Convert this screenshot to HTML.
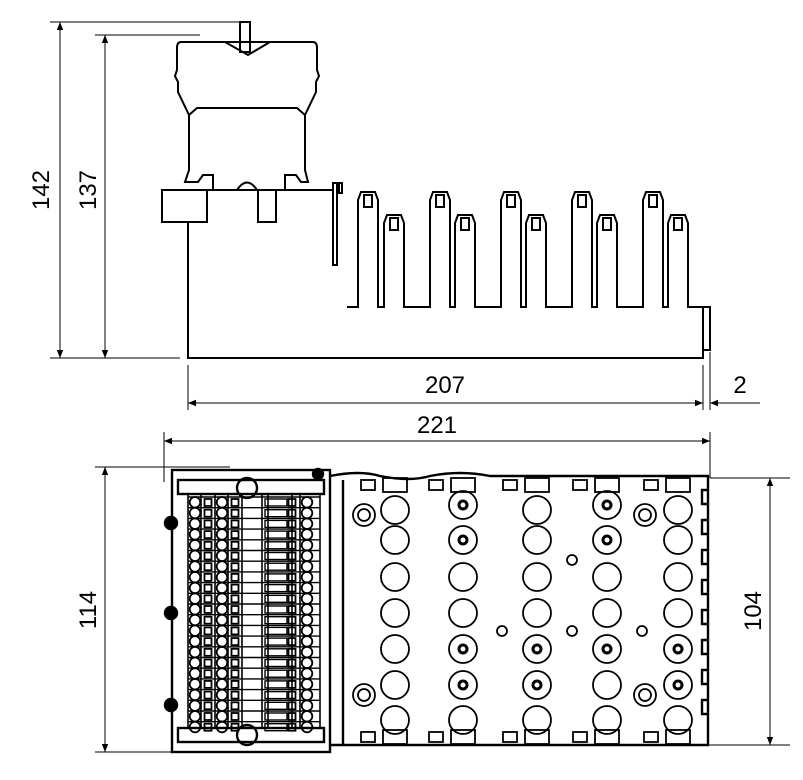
<!DOCTYPE html>
<html><head><meta charset="utf-8"><style>
html,body{margin:0;padding:0;background:#fff;width:803px;height:780px;overflow:hidden}
svg{display:block}
text{font-family:"Liberation Sans",sans-serif;font-size:24px;fill:#000}
</style></head><body>
<svg id="s" width="803" height="780" viewBox="0 0 803 780" xmlns="http://www.w3.org/2000/svg">
<defs>
<marker id="a" viewBox="0 0 10 10" refX="10" refY="5" markerWidth="12" markerHeight="8" orient="auto-start-reverse" markerUnits="userSpaceOnUse"><path d="M0,1 L10,5 L0,9 z" fill="#000"/></marker>
</defs>
<g stroke="#000" stroke-width="1" fill="none">
<line x1="50" y1="22" x2="240" y2="22"/><line x1="50" y1="358" x2="180" y2="358"/>
<line x1="95" y1="35" x2="200" y2="35"/>
<line x1="188" y1="365" x2="188" y2="410"/><line x1="703" y1="365" x2="703" y2="410"/><line x1="710" y1="352" x2="710" y2="410"/>
<line x1="164" y1="432" x2="164" y2="482"/><line x1="710" y1="432" x2="710" y2="478"/>
<line x1="95" y1="467" x2="230" y2="467"/><line x1="95" y1="752" x2="200" y2="752"/>
<line x1="710" y1="478" x2="790" y2="478"/><line x1="700" y1="745" x2="790" y2="745"/>
<line x1="60" y1="22" x2="60" y2="358" marker-start="url(#a)" marker-end="url(#a)"/>
<line x1="105" y1="35" x2="105" y2="358" marker-start="url(#a)" marker-end="url(#a)"/>
<line x1="188" y1="403" x2="703" y2="403" marker-start="url(#a)" marker-end="url(#a)"/>
<line x1="760" y1="403" x2="710" y2="403" marker-end="url(#a)"/>
<line x1="164" y1="441" x2="710" y2="441" marker-start="url(#a)" marker-end="url(#a)"/>
<line x1="105" y1="467" x2="105" y2="752" marker-start="url(#a)" marker-end="url(#a)"/>
<line x1="770" y1="478" x2="770" y2="745" marker-start="url(#a)" marker-end="url(#a)"/>
</g>
<text x="445" y="393" text-anchor="middle">207</text>
<text x="740" y="393" text-anchor="middle">2</text>
<text x="437" y="433" text-anchor="middle">221</text>
<text transform="translate(49,190) rotate(-90)" text-anchor="middle">142</text>
<text transform="translate(96,190) rotate(-90)" text-anchor="middle">137</text>
<text transform="translate(96,610) rotate(-90)" text-anchor="middle">114</text>
<text transform="translate(761,611) rotate(-90)" text-anchor="middle">104</text>

<g stroke="#000" stroke-width="2" fill="none">
<path d="M188,222 V358 H703 V307"/>
<path d="M207,190 H333"/>
<rect x="162" y="190" width="45" height="32"/>
<rect x="258" y="190" width="18" height="32"/>
<rect x="333" y="183" width="4" height="82"/><rect x="339" y="183" width="3" height="10"/>
<rect x="703" y="307" width="7" height="43"/>
<path d="M181,42 Q177,42 177,48 V70 L175,76 L178,82 V92 L189,115 V170 L185,182 H198 L203,175 H213 V190 H285 V175 H296 L301,182 H308 L305,170 V115 L316,92 V82 L319,76 L317,70 V48 Q317,42 313,42 Z"/>
<path d="M189,115 L197,108 H297 L305,115"/>
<path d="M225,42 L248,55 L270,42"/>
<rect x="240" y="22" width="10" height="30"/>
<path d="M237,190 Q247,175 257,190"/>
</g>
<g id="fins" stroke="#000" stroke-width="2" fill="none"></g>

<g stroke="#000" stroke-width="2.4" fill="none">
<rect x="172" y="470" width="158" height="282"/>
<rect x="178" y="480" width="146" height="14"/><rect x="178" y="728" width="146" height="14"/>
<path d="M330,476 Q360,470 380,476 Q410,482 430,476 Q460,470 490,476 H708 V745 H330"/>
<line x1="343" y1="480" x2="343" y2="745"/>
<circle cx="247" cy="488" r="10"/><circle cx="247" cy="735" r="10"/>
<circle cx="318" cy="474" r="5" fill="#000"/>
<circle cx="171" cy="523" r="6" fill="#000"/><circle cx="171" cy="613" r="6" fill="#000"/><circle cx="171" cy="705" r="6" fill="#000"/>
<path d="M708,490 h-6 v14 h6 M708,520 h-6 v14 h6 M708,550 h-6 v14 h6 M708,580 h-6 v14 h6 M708,610 h-6 v14 h6 M708,640 h-6 v14 h6 M708,670 h-6 v14 h6 M708,700 h-6 v14 h6"/>
</g>
<g id="bv" stroke="#000" stroke-width="1.8" fill="none"></g>
</svg>
<script>
var NS="http://www.w3.org/2000/svg";
function el(p,t,a){var e=document.createElementNS(NS,t);for(var k in a)e.setAttribute(k,a[k]);p.appendChild(e);return e;}
var f=document.getElementById("fins");
var tall=[358,430,501,572,643],sh=[384,455,526,597,668];
var pts=[];
for(var i=0;i<5;i++){pts.push([tall[i],192]);pts.push([sh[i],215]);}
var d="M347,307";
pts.forEach(function(p){var x=p[0],y=p[1];d+=" H"+x+" V"+(y+8)+" L"+(x+3)+","+y+" H"+(x+17)+" L"+(x+20)+","+(y+8)+" V307";
el(f,"rect",{x:x+6,y:y+3,width:8,height:12});});
d+=" H703";
el(f,"path",{d:d});
var b=document.getElementById("bv");
var cols=[395,463,537,607,678],rows=[510,540,577,613,649,685,720];
var spec={"463,505":1,"463,540":1,"463,649":1,"463,685":1,"537,649":1,"537,685":1,"607,505":1,"607,540":1,"607,649":1,"678,649":1,"678,685":1};
cols.forEach(function(x){rows.forEach(function(y){
 var yy=y; if((x==463||x==607)&&y==510) yy=505;
 el(b,"circle",{cx:x,cy:yy,r:14});
 if(spec[x+","+yy]){el(b,"circle",{cx:x,cy:yy,r:4,"stroke-width":3});}
});
 el(b,"rect",{x:x-12,y:478,width:24,height:14});el(b,"rect",{x:x-12,y:730,width:24,height:14});
 el(b,"rect",{x:x-34,y:480,width:14,height:10});el(b,"rect",{x:x-34,y:732,width:14,height:10});
});
[[364,515],[364,695],[645,515],[645,695]].forEach(function(p){el(b,"circle",{cx:p[0],cy:p[1],r:11});el(b,"circle",{cx:p[0],cy:p[1],r:6});});
[[572,560],[502,631],[572,631],[642,631]].forEach(function(p){el(b,"circle",{cx:p[0],cy:p[1],r:5});});
for(var r=0;r<22;r++){var y=497+r*10.7;
 el(b,"line",{x1:188,y1:y,x2:320,y2:y,"stroke-width":1.4});
 [195,222,307].forEach(function(x){el(b,"circle",{cx:x,cy:y+5.3,r:5.3});});
 [208,235,292].forEach(function(x){el(b,"rect",{x:x-3.5,y:y+2,width:7,height:7});});
 el(b,"rect",{x:265,y:y+2,width:22,height:7,"stroke-width":1.4});
}
[188,201,215,228,242,262,268,292,300,320].forEach(function(x){el(b,"line",{x1:x,y1:494,x2:x,y2:728,"stroke-width":1.6});});
</script>
</body></html>
